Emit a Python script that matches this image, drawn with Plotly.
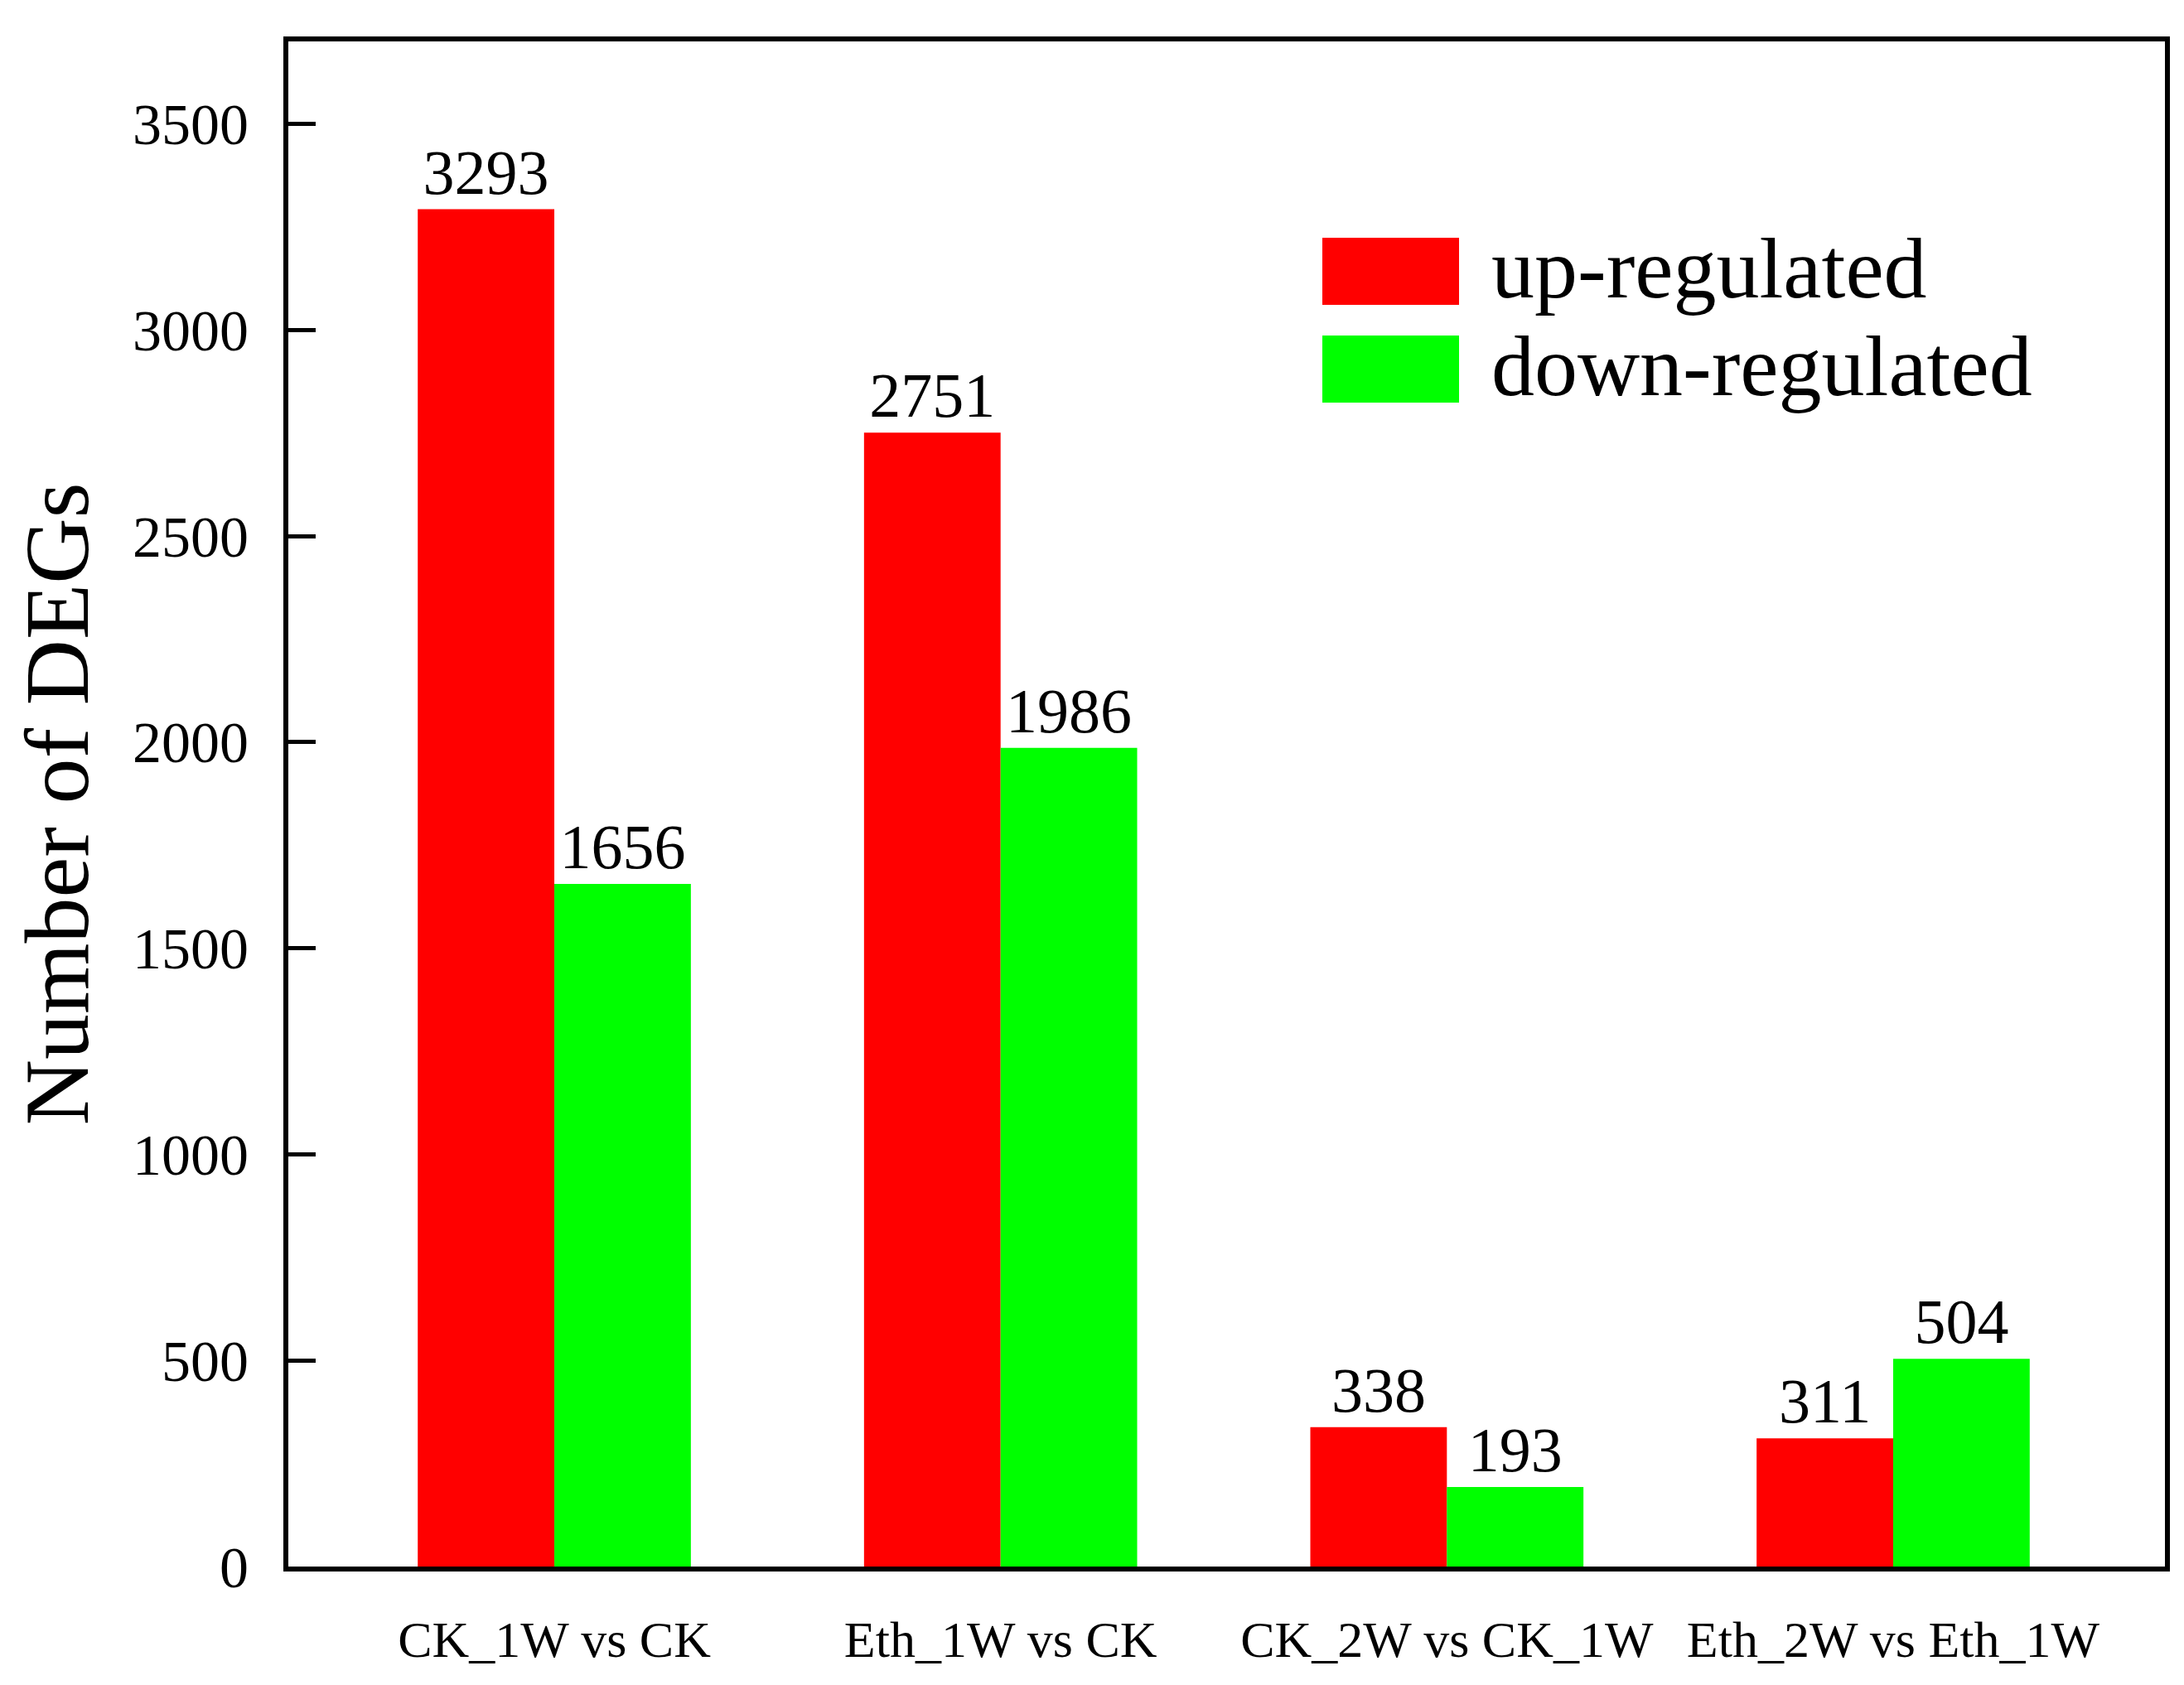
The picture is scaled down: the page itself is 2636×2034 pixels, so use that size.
import plotly.graph_objects as go

categories = ["CK_1W vs CK", "Eth_1W vs CK", "CK_2W vs CK_1W", "Eth_2W vs Eth_1W"]
up_regulated = [3293, 2751, 338, 311]
down_regulated = [1656, 1986, 193, 504]
series_names = ["up-regulated", "down-regulated"]
series_colors = ["#FF0000", "#00FF00"]
y_ticks = [0, 500, 1000, 1500, 2000, 2500, 3000, 3500]

FONT = "Liberation Serif"
W, H = 2636, 2034
L, R, T, B = 340, 31, 42, 151

fig = go.Figure()
for name, vals, col in zip(series_names, [up_regulated, down_regulated], series_colors):
    fig.add_trace(go.Bar(
        x=categories, y=vals, name=name,
        marker=dict(color=col, line=dict(width=0)),
        text=[str(v) for v in vals], textposition="outside",
        textfont=dict(family=FONT, size=76, color="black"),
        cliponaxis=False, showlegend=False,
    ))

fig.update_layout(
    width=W, height=H,
    margin=dict(l=L, r=R, t=T, b=B),
    paper_bgcolor="white", plot_bgcolor="white",
    barmode="group", bargap=0.388, bargroupgap=0,
    font=dict(family=FONT, color="black"),
    showlegend=False,
)
fig.update_xaxes(
    type="category", range=[-0.596, 3.609],
    showline=True, linecolor="black", linewidth=6, mirror=True,
    ticks="", showgrid=False, zeroline=False,
    tickfont=dict(family=FONT, size=62, color="black"),
    ticklabelstandoff=29,
)
fig.update_yaxes(
    range=[0, 3700], tickvals=y_ticks,
    showline=True, linecolor="black", linewidth=6, mirror=True,
    ticks="inside", ticklen=33, tickwidth=5, tickcolor="black",
    showgrid=False, zeroline=False,
    tickfont=dict(family=FONT, size=70, color="black"),
    ticklabelstandoff=28,
    title=dict(text="Number of DEGs", font=dict(family=FONT, size=110, color="black"), standoff=38),
)

# Legend drawn with large swatches (paper coordinates)
pw = W - L - R
ph = H - T - B
def px_to_paper_x(px):
    return (px - L) / pw
def px_to_paper_y(py):
    return 1 - (py - T) / ph

legend_rows = [(279, 360), (397, 478)]
for (y0, y1), name, col in zip(legend_rows, series_names, series_colors):
    fig.add_shape(type="rect", xref="paper", yref="paper",
                  x0=px_to_paper_x(1588), x1=px_to_paper_x(1753),
                  y0=px_to_paper_y(y1), y1=px_to_paper_y(y0),
                  fillcolor=col, line=dict(width=0))
    fig.add_annotation(xref="paper", yref="paper",
                       x=px_to_paper_x(1790), y=px_to_paper_y((y0 + y1) / 2 - 4),
                       text=name, showarrow=False, xanchor="left", yanchor="middle",
                       font=dict(family=FONT, size=104, color="black"))

fig.write_html("out.html")
